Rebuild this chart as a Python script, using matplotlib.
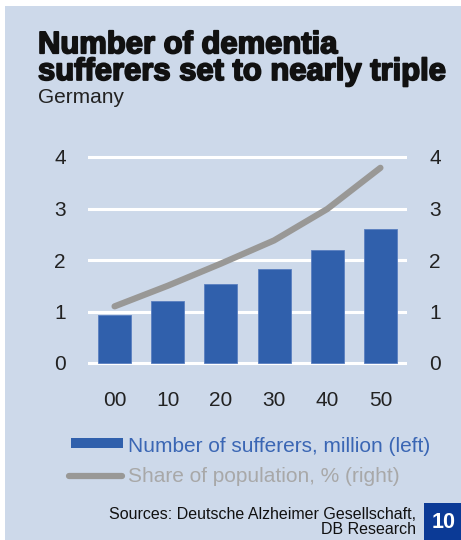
import matplotlib
matplotlib.use("Agg")
import matplotlib.pyplot as plt
from matplotlib.patches import Rectangle
from matplotlib.lines import Line2D
import matplotlib.patheffects as pe

categories = ["00", "10", "20", "30", "40", "50"]
sufferers = [0.93, 1.20, 1.53, 1.82, 2.19, 2.61]
share = [1.10, 1.50, 1.93, 2.38, 2.99, 3.79]
yticks = [0, 1, 2, 3, 4]

BG = "#cdd9ea"
BAR = "#3060ac"
LINE = "#999896"
W, H = 461, 540

plt.rcParams['font.family'] = ['Liberation Sans', 'DejaVu Sans']
fig = plt.figure(figsize=(W / 100, H / 100), dpi=100)
fig.patch.set_facecolor("white")
fig.add_artist(Rectangle((5 / W, 0), 1 - 5 / W, 1 - 6 / H, transform=fig.transFigure,
                         facecolor=BG, edgecolor="none", zorder=-10))

ylo, yhi = -0.05, 4.05
ppu = 51.5
bottom_px = 363 + 0.05 * ppu
height_px = (yhi - ylo) * ppu
ax = fig.add_axes([88 / W, 1 - bottom_px / H, 319 / W, height_px / H])
ax.set_facecolor("none")
x = list(range(len(categories)))
for v in yticks:
    ax.axhline(v, color="white", lw=2.2, zorder=0)
ax.bar(x, sufferers, width=0.62, color=BAR, edgecolor="#5a7fc0", linewidth=0.6, zorder=2)
ax.set_xlim(-0.5, 5.5)
ax.set_ylim(ylo, yhi)
ax.set_yticks(yticks)
ax.set_xticks(x)
ax.set_xticklabels(categories)
for s in ax.spines.values():
    s.set_visible(False)
ax.tick_params(axis="both", length=0, labelsize=15, colors="#222222")
ax.tick_params(axis="y", pad=16)
ax.tick_params(axis="x", pad=18)

ax2 = ax.twinx()
ax2.set_ylim(ylo, yhi)
ax2.set_yticks(yticks)
ax2.plot(x, share, color=LINE, lw=4.5, solid_capstyle="round", solid_joinstyle="round", zorder=3)
for s in ax2.spines.values():
    s.set_visible(False)
ax2.tick_params(axis="y", length=0, labelsize=15, colors="#222222", pad=16)

# Title
fig.text(38 / W, 1 - 87 / H, "Number of dementia\nsufferers set to nearly triple", fontsize=22.3,
         fontweight="heavy", color="#111111", va="bottom", ha="left", linespacing=0.86,
         path_effects=[pe.withStroke(linewidth=1.3, foreground="#111111")])
fig.text(38 / W, 1 - 103 / H, "Germany", fontsize=15, color="#222222", va="baseline")

# Legend
fig.add_artist(Rectangle((71 / W, 1 - 448 / H), 52 / W, 10 / H, transform=fig.transFigure,
                         facecolor=BAR, edgecolor="none"))
fig.text(128 / W, 1 - 452 / H, "Number of sufferers, million (left)", fontsize=15,
         color="#3a66b4", va="baseline")
fig.add_artist(Line2D([69 / W, 122 / W], [1 - 476 / H, 1 - 476 / H], transform=fig.transFigure,
                      color=LINE, lw=4.5, solid_capstyle="round"))
fig.text(128 / W, 1 - 482 / H, "Share of population, % (right)", fontsize=15,
         color="#a8a8a8", va="baseline")

# Sources
fig.text(416 / W, 1 - 537 / H, "Sources: Deutsche Alzheimer Gesellschaft,\nDB Research",
         fontsize=11.5, color="#111111", ha="right", va="bottom", multialignment="right",
         linespacing=0.98)

fig.add_artist(Rectangle((424 / W, 0), 37 / W, 37 / H, transform=fig.transFigure,
                         facecolor="#0b3a96", edgecolor="none"))
fig.text(443.5 / W, 1 - 523 / H, "10", fontsize=15.5, fontweight="bold", color="white",
         ha="center", va="center")

fig.savefig("out.png", dpi=100, facecolor=fig.get_facecolor())
